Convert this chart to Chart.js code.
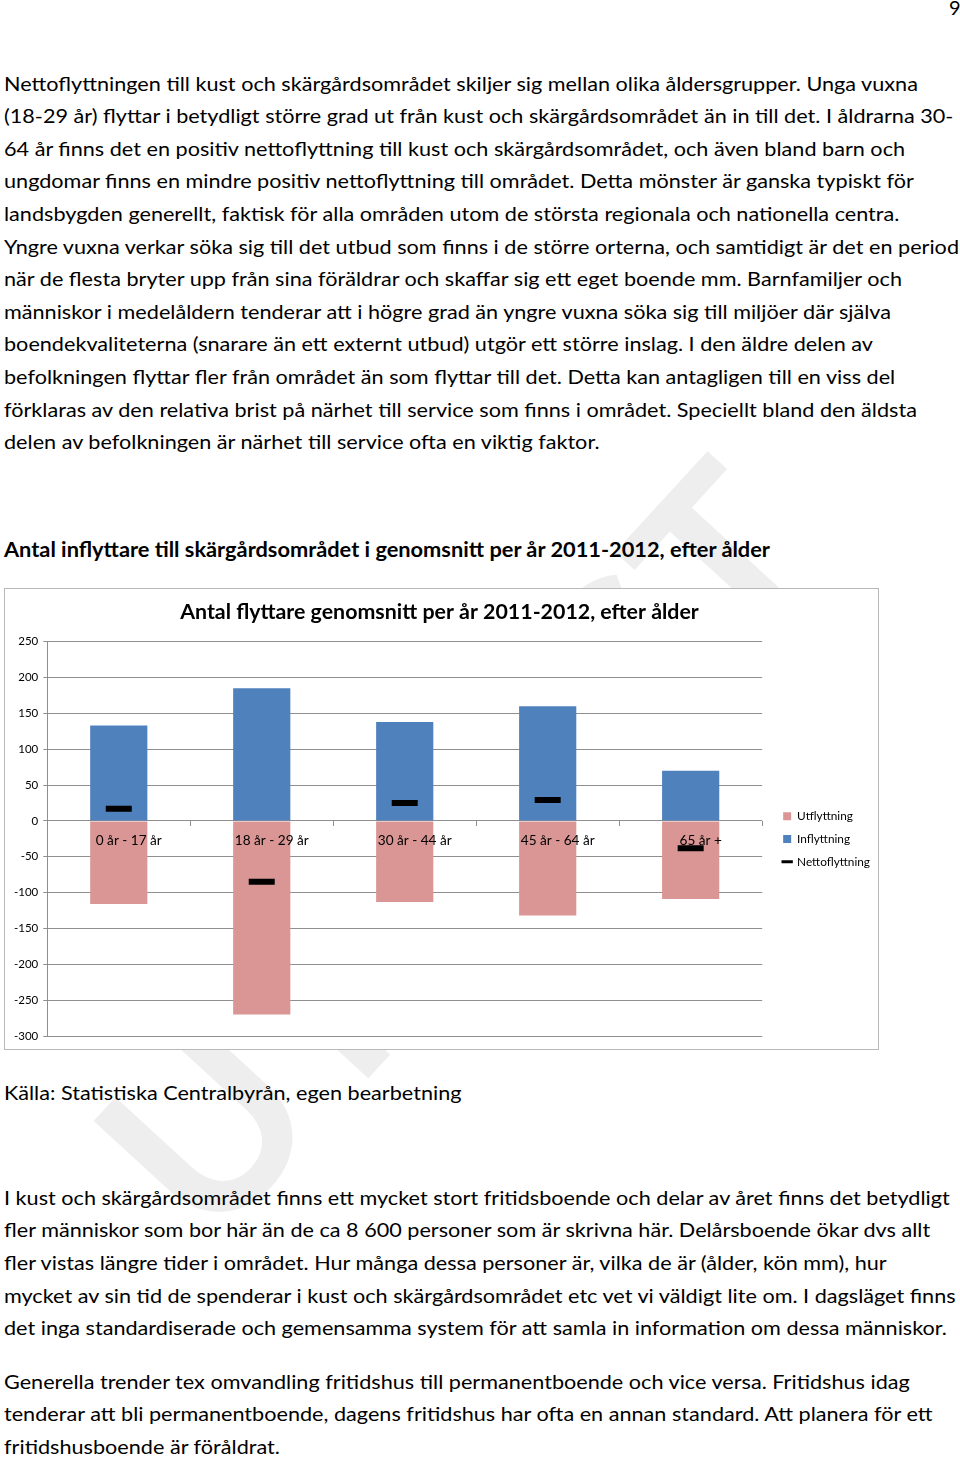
<!DOCTYPE html>
<html lang="sv">
<head>
<meta charset="utf-8">
<script src="https://cdn.jsdelivr.net/npm/chart.js@4.4.1/dist/chart.umd.min.js"></script>
<style>
html, body { margin: 0; padding: 0; background: #fff; }
body { width: 960px; height: 1458px; position: relative; overflow: hidden; font-family: Lato, 'Noto Sans', sans-serif; color: #000; }
.wm { position: absolute; left: 53px; top: 1107px; font-size: 240px; line-height: 1; font-weight: bold; color: #eeeeee;
  white-space: nowrap; transform: rotate(-47.5deg); transform-origin: 0 0; }
.pg { position: absolute; left: 949px; top: -5px; font-size: 20px; line-height: 24px; }
.txt { position: absolute; left: 4px; font-size: 20px; }
.txt span { display: block; white-space: nowrap; transform-origin: 0 50%; }
.p1 span { height: 32.6px; line-height: 32.6px; }
.p2 span, .p3 span { height: 32.7px; line-height: 32.7px; }
.head { font-weight: bold; }
.box { position: absolute; left: 4px; top: 588px; width: 873px; height: 460px; border: 1px solid #b8b8b8; background: #fff; }
.box canvas { display: block; }
</style>
</head>
<body>
<div class="wm">UTKAST</div>
<div class="pg">9</div>

<div class="txt p1 body" style="top:66.7px">
<span>Nettoflyttningen till kust och skärgårdsområdet skiljer sig mellan olika åldersgrupper. Unga vuxna</span>
<span>(18-29 år) flyttar i betydligt större grad ut från kust och skärgårdsområdet än in till det. I åldrarna 30-</span>
<span>64 år finns det en positiv nettoflyttning till kust och skärgårdsområdet, och även bland barn och</span>
<span>ungdomar finns en mindre positiv nettoflyttning till området. Detta mönster är ganska typiskt för</span>
<span>landsbygden generellt, faktisk för alla områden utom de största regionala och nationella centra.</span>
<span id="ref">Yngre vuxna verkar söka sig till det utbud som finns i de större orterna, och samtidigt är det en period</span>
<span>när de flesta bryter upp från sina föräldrar och skaffar sig ett eget boende mm. Barnfamiljer och</span>
<span>människor i medelåldern tenderar att i högre grad än yngre vuxna söka sig till miljöer där själva</span>
<span>boendekvaliteterna (snarare än ett externt utbud) utgör ett större inslag. I den äldre delen av</span>
<span>befolkningen flyttar fler från området än som flyttar till det. Detta kan antagligen till en viss del</span>
<span>förklaras av den relativa brist på närhet till service som finns i området. Speciellt bland den äldsta</span>
<span>delen av befolkningen är närhet till service ofta en viktig faktor.</span>
</div>

<div class="txt p1 head" style="top:532.7px">
<span id="headref">Antal inflyttare till skärgårdsområdet i genomsnitt per år 2011-2012, efter ålder</span>
</div>

<div class="box"><canvas id="flyttChart" width="873" height="466"></canvas></div>

<div class="txt p1 body" style="top:1075.7px">
<span>Källa: Statistiska Centralbyrån, egen bearbetning</span>
</div>

<div class="txt p2 body" style="top:1180.7px">
<span>I kust och skärgårdsområdet finns ett mycket stort fritidsboende och delar av året finns det betydligt</span>
<span>fler människor som bor här än de ca 8 600 personer som är skrivna här. Delårsboende ökar dvs allt</span>
<span>fler vistas längre tider i området. Hur många dessa personer är, vilka de är (ålder, kön mm), hur</span>
<span>mycket av sin tid de spenderar i kust och skärgårdsområdet etc vet vi väldigt lite om. I dagsläget finns</span>
<span>det inga standardiserade och gemensamma system för att samla in information om dessa människor.</span>
</div>

<div class="txt p3 body" style="top:1364.7px">
<span>Generella trender tex omvandling fritidshus till permanentboende och vice versa. Fritidshus idag</span>
<span>tenderar att bli permanentboende, dagens fritidshus har ofta en annan standard. Att planera för ett</span>
<span>fritidshusboende är föråldrat.</span>
</div>

<script>
// data
const kategorier = ['0 år - 17 år', '18 år - 29 år', '30 år - 44 år', '45 år - 64 år', '65 år +'];
const utflyttning = [-116, -270, -113, -132, -109];
const inflyttning = [133, 185, 138, 160, 70];
const nettoflyttning = [17, -85, 25, 29, -38];
const yMin = -300;
const yMax = 250;
const yStep = 50;

const FONT = "Lato, 'Noto Sans', sans-serif";

// squeeze the body lines to about Calibri width
function squeeze(refId, target, selector) {
  const ref = document.getElementById(refId);
  const w = ref.getBoundingClientRect().width;
  const k = target / w;
  document.querySelectorAll(selector).forEach(s => { s.style.transform = 'scaleX(' + k + ')'; });
}
document.querySelectorAll('.txt span').forEach(s => { s.style.width = 'max-content'; });
squeeze('ref', 955, '.body span');
squeeze('headref', 766, '.head span');

// font size that gives a text a certain width
function fitSize(text, weight, target) {
  const c = document.createElement('canvas').getContext('2d');
  c.font = weight + ' 100px ' + FONT;
  return 100 * target / c.measureText(text).width;
}
const titleSize = fitSize('Antal flyttare genomsnitt per år 2011-2012, efter ålder', 'bold', 519);
const catSize = fitSize('18 år - 29 år', 'normal', 74);
const legSize = fitSize('Nettoflyttning', 'normal', 73);

const grid = '#8f8f8f';

// move the legend a little, Excel keeps it further from the plot
const legendShift = {
  id: 'legendShift',
  afterLayout(chart) {
    const lg = chart.legend;
    lg.left += 10; lg.right += 10;
    lg.top += 17; lg.bottom += 17;
  }
};

const ctx = document.getElementById('flyttChart').getContext('2d');
new Chart(ctx, {
  data: {
    labels: kategorier,
    datasets: [
      { type: 'bar', label: 'Utflyttning', data: utflyttning, backgroundColor: '#D99694',
        barPercentage: 0.4, categoryPercentage: 1, order: 1 },
      { type: 'bar', label: 'Inflyttning', data: inflyttning, backgroundColor: '#4F81BD',
        barPercentage: 0.4, categoryPercentage: 1, order: 1 },
      { type: 'line', label: 'Nettoflyttning', data: nettoflyttning, stack: 'netto', order: 0,
        showLine: false, borderColor: '#000', backgroundColor: '#000', borderWidth: 3,
        pointStyle: 'line', pointRadius: 13, pointHoverRadius: 13, pointBorderWidth: 6, pointHoverBorderWidth: 6,
        pointBorderColor: '#000' }
    ]
  },
  options: {
    responsive: false,
    animation: false,
    events: [],
    layout: { padding: { left: 4, right: 8, top: 0, bottom: 0 } },
    plugins: {
      title: { display: true, text: 'Antal flyttare genomsnitt per år 2011-2012, efter ålder', color: '#000',
        font: { family: FONT, size: titleSize, weight: 'bold' }, padding: { top: 10, bottom: 17 } },
      legend: {
        position: 'right',
        labels: {
          usePointStyle: true, boxWidth: 8, boxHeight: 8, padding: 11, color: '#000',
          font: { family: FONT, size: legSize },
          sort: (a, b) => a.datasetIndex - b.datasetIndex,
          generateLabels: chart => {
            const items = Chart.defaults.plugins.legend.labels.generateLabels(chart);
            items.forEach(it => {
              it.pointStyle = it.datasetIndex === 2 ? 'line' : 'rect';
              if (it.datasetIndex === 2) { it.lineWidth = 3; it.strokeStyle = '#000'; }
              else { it.lineWidth = 0; }
            });
            return items;
          }
        }
      },
      tooltip: { enabled: false }
    },
    scales: {
      x: {
        stacked: true,
        position: { y: 0 },
        grid: { drawOnChartArea: false, drawTicks: true, tickLength: 5, color: grid, offset: true },
        border: { display: false },
        ticks: { z: 1, color: '#000', font: { family: FONT, size: catSize }, padding: 7, labelOffset: 10,
          maxRotation: 0, autoSkip: false }
      },
      y: {
        stacked: true,
        min: yMin, max: yMax,
        ticks: { stepSize: yStep, color: '#000', font: { family: FONT, size: 11.5 }, padding: 5 },
        grid: { color: grid, tickLength: 4 },
        border: { color: grid }
      }
    }
  },
  plugins: [legendShift]
});
</script>
</body>
</html>
